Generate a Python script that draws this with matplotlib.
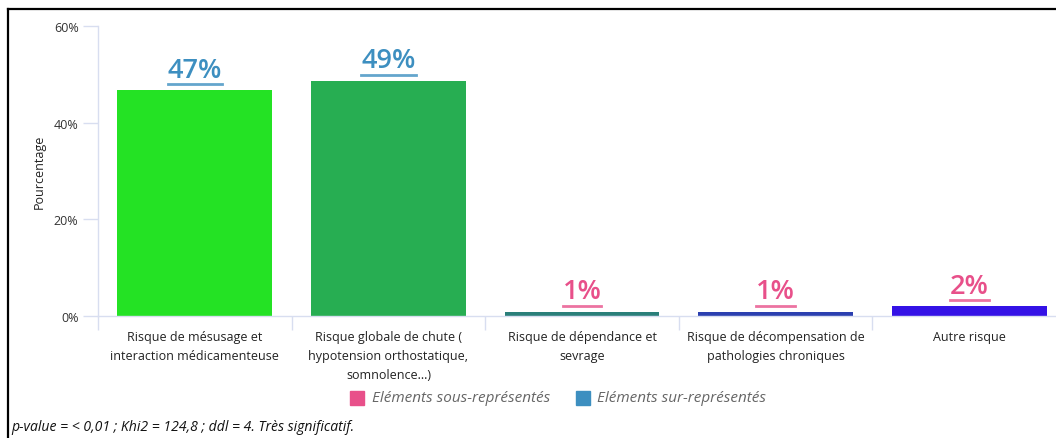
import matplotlib
matplotlib.use("Agg")
import matplotlib.pyplot as plt
from matplotlib.patches import Rectangle

categories = [
    "Risque de mésusage et\ninteraction médicamenteuse",
    "Risque globale de chute (\nhypotension orthostatique,\nsomnolence...)",
    "Risque de dépendance et\nsevrage",
    "Risque de décompensation de\npathologies chroniques",
    "Autre risque",
]
values = [46.7, 48.7, 0.9, 0.9, 2.0]
value_labels = ["47%", "49%", "1%", "1%", "2%"]
over_represented = [True, True, False, False, False]
bar_colors = ["#24E224", "#27AE52", "#2A7F7A", "#2B3FB0", "#3412E6"]
yticks = [0, 20, 40, 60]
ytick_labels = ["0%", "20%", "40%", "60%"]

BLUE = "#3D8FC0"
PINK = "#E8508A"
AXC = "#D8DEF0"
FONT = ["Open Sans", "DejaVu Sans"]
plt.rcParams["font.family"] = FONT

W, H = 1056, 439
fig = plt.figure(figsize=(W / 100, H / 100), dpi=100)

def fx(px):
    return px / W

def fy(py):
    return 1 - py / H

ax_left, ax_right, ax_top, ax_bot = 98, 1066, 27, 317
ax = fig.add_axes([fx(ax_left), fy(ax_bot), fx(ax_right - ax_left), (ax_bot - ax_top) / H])
x = list(range(len(categories)))
ax.bar(x, values, width=0.8, color=bar_colors, zorder=2)
ax.set_xlim(-0.5, len(categories) - 0.5)
ax.set_ylim(0, 60)
ax.set_yticks(yticks)
ax.set_yticklabels(ytick_labels, fontsize=9, color="#333333")
ax.set_xticks([i + 0.5 for i in range(-1, len(categories))], minor=True)
ax.set_xticks(x)
ax.set_xticklabels(categories, fontsize=9, color="#222222", linespacing=1.6, va="top")
ax.tick_params(axis="x", which="major", length=0, pad=10)
ax.tick_params(axis="x", which="minor", length=10, color=AXC, width=1)
ax.tick_params(axis="y", length=11, color=AXC, width=1, pad=3)
for s in ["top", "right"]:
    ax.spines[s].set_visible(False)
ax.spines["left"].set_color(AXC)
ax.spines["bottom"].set_color(AXC)
ax.spines["left"].set_linewidth(1)
ax.spines["bottom"].set_linewidth(1)
ax.set_ylabel("Pourcentage", fontsize=9, color="#222222", labelpad=6)
ax.patch.set_alpha(0)

texts = []
for xi, v, lab, over in zip(x, values, value_labels, over_represented):
    c = BLUE if over else PINK
    t = ax.annotate(lab, (xi, v), xytext=(0, 9.5), textcoords="offset points",
                    ha="center", va="baseline", fontsize=19.5, fontweight=600,
                    color=c, annotation_clip=False)
    texts.append((t, c, xi, v))

fig.canvas.draw()
r = fig.canvas.get_renderer()
for t, c, xi, v in texts:
    bb = t.get_window_extent(r)
    disp_y = ax.transData.transform((xi, v))[1] + 6
    y_line = disp_y / H
    fig.add_artist(plt.Line2D([bb.x0 / W, bb.x1 / W], [y_line, y_line], color=c, lw=2, alpha=0.8))

# legend
fig.add_artist(Rectangle((fx(350), fy(406)), 14 / W, 14 / H, color=PINK, transform=fig.transFigure))
fig.text(fx(372), fy(399), "Eléments sous-représentés", fontsize=11, style="italic", color="#666666", va="center")
fig.add_artist(Rectangle((fx(576), fy(406)), 14 / W, 14 / H, color=BLUE, transform=fig.transFigure))
fig.text(fx(597), fy(399), "Eléments sur-représentés", fontsize=11, style="italic", color="#666666", va="center")

fig.text(fx(11), fy(428), "p-value = < 0,01 ; Khi2 = 124,8 ; ddl = 4. Très significatif.",
         fontsize=10.1, style="italic", color="#111111", va="center")

# frame
fig.add_artist(plt.Line2D([fx(8), fx(8)], [fy(10), 0], color="black", lw=1.6))
fig.add_artist(plt.Line2D([fx(8), 1], [fy(10), fy(10)], color="black", lw=1.6))

fig.savefig("out.png", dpi=100)
